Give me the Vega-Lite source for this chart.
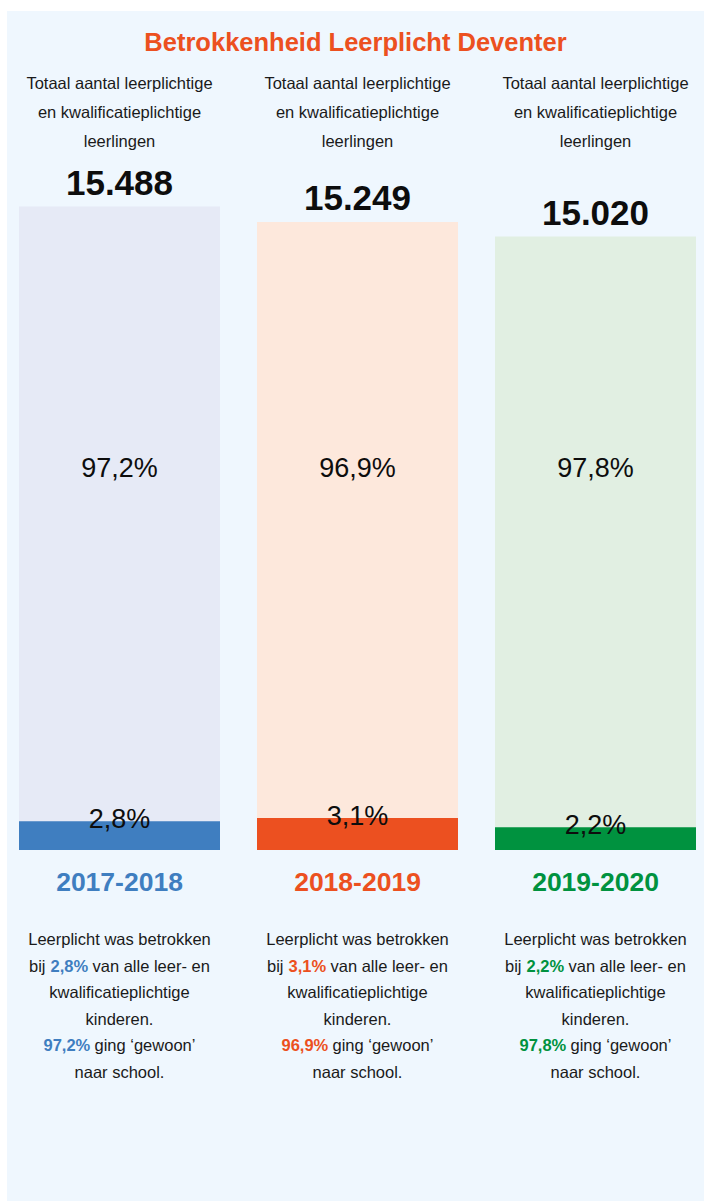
{
  "$schema": "https://vega.github.io/schema/vega-lite/v6.json",
  "width": 697,
  "height": 1190,
  "autosize": "none",
  "padding": {"left": 7, "top": 11, "right": 0, "bottom": 0},
  "background": "#ffffff",
  "config": {
    "view": {"fill": "#eff7fe", "stroke": null},
    "locale": {"number": {"decimal": ",", "thousands": ".", "grouping": [3], "currency": ["€", ""]}},
    "text": {"font": "Liberation Sans", "color": "#1a1a1a"}
  },
  "title": {
    "text": "Betrokkenheid Leerplicht Deventer",
    "anchor": "middle",
    "frame": "group",
    "orient": "top",
    "offset": -65,
    "baseline": "alphabetic",
    "font": "Liberation Sans",
    "fontSize": 25.5,
    "fontWeight": "bold",
    "color": "#ec5020"
  },
  "data": {
    "values": [
      {"year": "2017-2018", "total": 15488, "share_betrokken": 0.028, "share_gewoon": 0.972},
      {"year": "2018-2019", "total": 15249, "share_betrokken": 0.031, "share_gewoon": 0.969},
      {"year": "2019-2020", "total": 15020, "share_betrokken": 0.022, "share_gewoon": 0.978}
    ]
  },
  "encoding": {
    "x": {
      "field": "year",
      "type": "nominal",
      "axis": null,
      "scale": {"type": "band", "range": [-6.5, 707.5], "paddingInner": 0, "paddingOuter": 0}
    }
  },
  "layer": [
    {
      "mark": {"type": "bar", "width": 201},
      "encoding": {
        "y": {"field": "total", "type": "quantitative", "axis": null, "scale": {"domain": [5444, 18541], "range": [839, 0], "zero": false, "nice": false}},
        "y2": {"datum": 5444},
        "color": {"field": "year", "type": "nominal", "legend": null, "scale": {"domain": ["2017-2018", "2018-2019", "2019-2020"], "range": ["#e6eaf6", "#fde8dc", "#e1efe2"]}}
      }
    },
    {
      "mark": {"type": "bar", "width": 201},
      "encoding": {
        "y": {"field": "share_betrokken", "type": "quantitative", "axis": null, "scale": {"domain": [0, 0.1], "range": [839, 736], "nice": false}},
        "y2": {"datum": 0},
        "color": {"field": "year", "type": "nominal", "legend": null, "scale": {"domain": ["2017-2018", "2018-2019", "2019-2020"], "range": ["#3f7ec0", "#ec5020", "#00923f"]}}
      }
    },
    {
      "mark": {"type": "text", "baseline": "alphabetic", "dy": -12, "font": "Liberation Sans", "fontSize": 35, "fontWeight": "bold", "color": "#0d0d0d"},
      "encoding": {
        "y": {"field": "total", "type": "quantitative", "axis": null, "scale": {"domain": [5444, 18541], "range": [839, 0], "zero": false, "nice": false}},
        "text": {"field": "total", "type": "quantitative", "format": ",d"}
      }
    },
    {
      "mark": {"type": "text", "baseline": "alphabetic", "font": "Liberation Sans", "fontSize": 27, "color": "#0d0d0d"},
      "encoding": {
        "y": {"value": 466},
        "text": {"field": "share_gewoon", "type": "quantitative", "format": ".1%"}
      }
    },
    {
      "mark": {"type": "text", "baseline": "alphabetic", "dy": 7, "font": "Liberation Sans", "fontSize": 27, "color": "#0d0d0d"},
      "encoding": {
        "y": {"field": "share_betrokken", "type": "quantitative", "axis": null, "scale": {"domain": [0, 0.1], "range": [839, 736], "nice": false}},
        "text": {"field": "share_betrokken", "type": "quantitative", "format": ".1%"}
      }
    },
    {
      "mark": {"type": "text", "baseline": "alphabetic", "font": "Liberation Sans", "fontSize": 26.5, "fontWeight": "bold"},
      "encoding": {
        "y": {"value": 880},
        "text": {"field": "year", "type": "nominal"},
        "color": {"field": "year", "type": "nominal", "legend": null, "scale": {"domain": ["2017-2018", "2018-2019", "2019-2020"], "range": ["#3f7ec0", "#ec5020", "#00923f"]}}
      }
    },
    {
      "mark": {"type": "text", "baseline": "top", "lineHeight": 29, "fontSize": 16.5, "text": ["Totaal aantal leerplichtige", "en kwalificatieplichtige", "leerlingen"]},
      "encoding": {"y": {"value": 65}}
    },
    {
      "mark": {"type": "text", "baseline": "alphabetic", "fontSize": 16.5, "text": "Leerplicht was betrokken"},
      "encoding": {"y": {"value": 934}}
    },
    {
      "mark": {"type": "text", "baseline": "alphabetic", "align": "right", "dx": -74, "fontSize": 16.5, "text": "bij"},
      "encoding": {"y": {"value": 960.6}}
    },
    {
      "mark": {"type": "text", "baseline": "alphabetic", "align": "left", "dx": -69, "fontSize": 16.5, "fontWeight": "bold"},
      "encoding": {
        "y": {"value": 960.6},
        "text": {"field": "share_betrokken", "type": "quantitative", "format": ".1%"},
        "color": {"field": "year", "type": "nominal", "legend": null, "scale": {"domain": ["2017-2018", "2018-2019", "2019-2020"], "range": ["#3f7ec0", "#ec5020", "#00923f"]}}
      }
    },
    {
      "mark": {"type": "text", "baseline": "alphabetic", "align": "left", "dx": -27, "fontSize": 16.5, "text": "van alle leer- en"},
      "encoding": {"y": {"value": 960.6}}
    },
    {
      "mark": {"type": "text", "baseline": "top", "lineHeight": 26.6, "fontSize": 16.5, "text": ["kwalificatieplichtige", "kinderen."]},
      "encoding": {"y": {"value": 974}}
    },
    {
      "mark": {"type": "text", "baseline": "alphabetic", "align": "left", "dx": -76, "fontSize": 16.5, "fontWeight": "bold"},
      "encoding": {
        "y": {"value": 1040.4},
        "text": {"field": "share_gewoon", "type": "quantitative", "format": ".1%"},
        "color": {"field": "year", "type": "nominal", "legend": null, "scale": {"domain": ["2017-2018", "2018-2019", "2019-2020"], "range": ["#3f7ec0", "#ec5020", "#00923f"]}}
      }
    },
    {
      "mark": {"type": "text", "baseline": "alphabetic", "align": "left", "dx": -25, "fontSize": 16.5, "text": "ging ‘gewoon’"},
      "encoding": {"y": {"value": 1040.4}}
    },
    {
      "mark": {"type": "text", "baseline": "alphabetic", "fontSize": 16.5, "text": "naar school."},
      "encoding": {"y": {"value": 1067}}
    }
  ],
  "resolve": {"scale": {"y": "independent", "color": "independent"}}
}
